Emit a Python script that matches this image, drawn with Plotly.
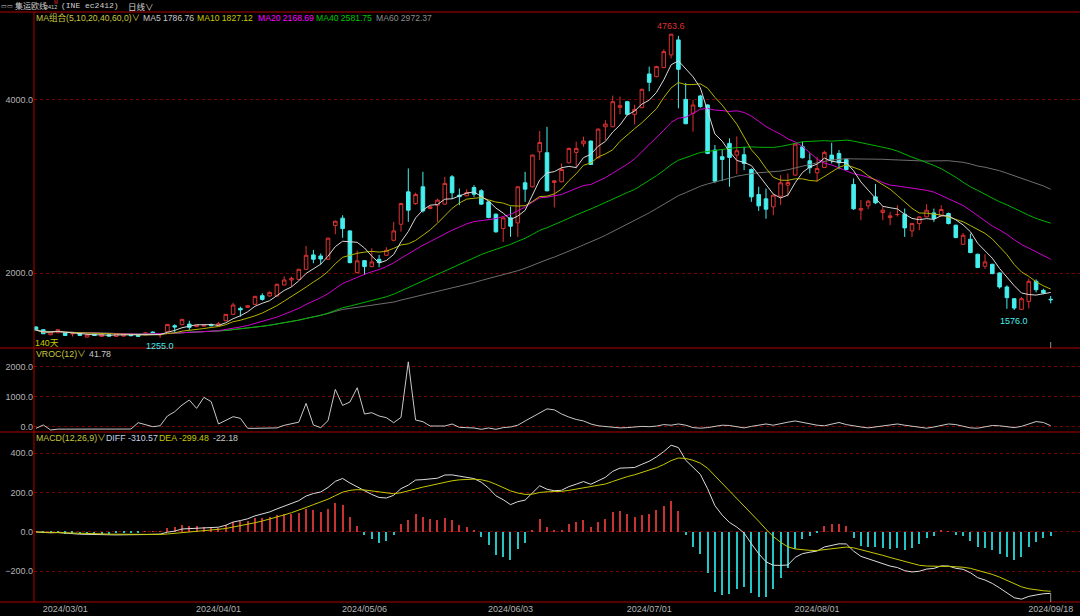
import plotly.graph_objects as go
import pandas as pd

# ---------------- data ----------------
tick_idx = [4, 25, 45, 65, 84, 107, 139]
tick_labels = ["2024/03/01", "2024/04/01", "2024/05/06", "2024/06/03",
               "2024/07/01", "2024/08/01", "2024/09/18"]

open_ = [
    1380, 1349, 1291, 1314, 1314, 1300, 1310, 1264, 1303, 1272,
    1295, 1272, 1275, 1295, 1291, 1291, 1322, 1290, 1326, 1395,
    1407, 1414, 1384, 1391, 1410, 1395, 1453, 1526, 1595, 1607,
    1642, 1742, 1738, 1738, 1865, 1923, 1930, 2046, 2212, 2200,
    2162, 2551, 2636, 2489, 2008, 2146, 2077, 2162, 2208, 2381,
    2566, 2940, 2805, 2998, 2747, 2786, 2798, 3113, 2902, 2894,
    2990, 2952, 2824, 2682, 2516, 2640, 2582, 3044, 2998, 3402,
    3391, 3048, 3056, 3275, 3395, 3495, 3526, 3333, 3691, 3691,
    3915, 3980, 3834, 3911, 4300, 4269, 4373, 4520, 4693, 4007,
    3846, 4046, 3942, 3422, 3345, 3499, 3364, 3368, 3198, 2909,
    2859, 2767, 2890, 3017, 3133, 3460, 3298, 3160, 3221, 3364,
    3383, 3314, 3025, 2728, 2778, 2882, 2701, 2643, 2678, 2682,
    2489, 2574, 2651, 2697, 2663, 2690, 2555, 2335, 2393, 2220,
    2081, 2104, 2004, 1842, 1707, 1584, 1676, 1908, 1803, 1700,
]
high = [
    1390, 1357, 1330, 1356, 1320, 1314, 1316, 1296, 1308, 1296,
    1300, 1306, 1300, 1298, 1294, 1318, 1330, 1310, 1415, 1412,
    1475, 1453, 1402, 1412, 1418, 1440, 1530, 1660, 1615, 1632,
    1740, 1770, 1790, 1880, 1965, 1961, 2050, 2316, 2270, 2228,
    2410, 2610, 2670, 2495, 2262, 2150, 2289, 2212, 2300, 2593,
    2815, 3210, 2930, 3171, 2780, 2860, 3113, 3133, 2978, 2970,
    3017, 2970, 2830, 2690, 2650, 2770, 3005, 3171, 3370, 3642,
    3690, 3075, 3268, 3450, 3518, 3576, 3530, 3670, 3768, 4050,
    4038, 3990, 3945, 4130, 4385, 4395, 4585, 4763.6, 4740, 4196,
    4000, 4060, 3950, 3480, 3430, 3557, 3580, 3460, 3210, 2998,
    2978, 2910, 3133, 3152, 3506, 3518, 3383, 3345, 3414, 3506,
    3422, 3325, 3095, 2844, 2845, 3029, 2775, 2709, 2786, 2747,
    2580, 2660, 2797, 2747, 2786, 2700, 2560, 2466, 2458, 2225,
    2220, 2110, 2010, 1861, 1712, 1726, 1938, 1930, 1822, 1738,
]
low = [
    1338, 1298, 1286, 1310, 1278, 1270, 1278, 1260, 1278, 1266,
    1268, 1266, 1270, 1272, 1266, 1285, 1290, 1255, 1320, 1310,
    1400, 1345, 1378, 1385, 1388, 1390, 1448, 1520, 1500, 1600,
    1635, 1685, 1730, 1730, 1860, 1846, 1925, 2040, 2116, 2100,
    2155, 2451, 2410, 2115, 2000, 1980, 2070, 2070, 2200, 2370,
    2480, 2593, 2790, 2700, 2740, 2593, 2790, 2856, 2786, 2890,
    2882, 2790, 2635, 2470, 2362, 2420, 2420, 2825, 2990, 3306,
    2945, 2760, 3050, 3270, 3210, 3460, 3250, 3325, 3537, 3685,
    3834, 3825, 3718, 3905, 4100, 4260, 4365, 4480, 3903, 3720,
    3634, 3910, 3375, 3040, 3063, 2999, 3145, 3190, 2825, 2720,
    2630, 2670, 2790, 2886, 3125, 3325, 3152, 3056, 3215, 3268,
    3200, 3190, 2730, 2613, 2740, 2798, 2613, 2555, 2655, 2420,
    2420, 2497, 2645, 2593, 2655, 2565, 2405, 2328, 2232, 2060,
    2050, 1990, 1822, 1591, 1576, 1580, 1595, 1780, 1760, 1653,
]
close = [
    1345, 1303, 1322, 1349, 1283, 1305, 1283, 1291, 1283, 1291,
    1275, 1303, 1295, 1280, 1272, 1314, 1303, 1298, 1410, 1380,
    1468, 1376, 1399, 1407, 1395, 1418, 1526, 1634, 1578, 1626,
    1734, 1699, 1780, 1873, 1923, 1942, 2046, 2208, 2162, 2165,
    2405, 2601, 2516, 2123, 2143, 2077, 2131, 2123, 2266, 2489,
    2805, 2728, 2909, 2720, 2767, 2844, 3037, 2929, 2884, 2932,
    2913, 2798, 2643, 2478, 2640, 2543, 2998, 2971, 3364, 3510,
    2952, 3067, 3198, 3441, 3441, 3526, 3256, 3664, 3722, 3980,
    3934, 3834, 3891, 4123, 4204, 4385, 4558, 4759, 4354, 3726,
    3942, 3923, 3383, 3063, 3314, 3337, 3414, 3268, 2882, 2778,
    2740, 2902, 3044, 3048, 3491, 3333, 3218, 3210, 3395, 3306,
    3275, 3198, 2744, 2747, 2832, 2813, 2728, 2663, 2678, 2524,
    2574, 2651, 2728, 2632, 2736, 2574, 2412, 2439, 2239, 2066,
    2131, 1996, 1842, 1719, 1599, 1707, 1908, 1811, 1773, 1695,
]
vroc = [
    -43, 66, -99, -70, -70, -72, -70, -72, -70, -72,
    -70, -70, -70, -68, 143, 80, 10, 40, 364, 507,
    728, 894, 618, 983, 840, 99, 210, 342, 287, -44,
    -44, -44, -50, -30, 55, 100, 160, 783, 66, -22,
    210, 1247, 718, 827, 1302, 430, 474, 364, 309, 143,
    320, 2162, 232, 176, 33, 33, 33, 99, -11, -22,
    -33, -77, -33, -77, -20, 0, 60, 200, 330, 480,
    600, 570, 430, 330, 250, 200, 100, 40, 20, 0,
    -30, -20, 0, 20, 10, 30, 80, 60, 100, 60,
    -20, -40, -20, 20, 60, 50, 0, -30, 20, 70,
    100, 60, 120, 160, 200, 150, 120, 60, 40, 100,
    150, 80, 30, 0, -30, 0, 40, 70, 100, 60,
    20, -20, -40, 0, 40, 100, 80, 20, -30, -40,
    0, 50, 40, 0, -20, 20, 100, 180, 150, 41.78,
]

legend_ma = [("MA5 1786.76", "#c8c8c8"), ("MA10 1827.12", "#c8c800"),
             ("MA20 2168.69", "#ff00ff"), ("MA40 2581.75", "#00c800"),
             ("MA60 2972.37", "#8c8c8c")]

# ---------------- derived indicators ----------------
idx = list(range(len(close)))
s = pd.Series(close, dtype=float)
ma = {n: s.rolling(n, min_periods=1).mean() for n in (5, 10, 20, 40, 60)}
ema12 = s.ewm(span=12, adjust=False).mean()
ema26 = s.ewm(span=26, adjust=False).mean()
diff = ema12 - ema26
dea = diff.ewm(span=9, adjust=False).mean()
hist = 2 * (diff - dea)

# ---------------- geometry ----------------
W, H = 1080, 616
L, R, T, B = 34, 0, 12, 14
PW, PH = W - L - R, H - T - B


def px(x):
    return (x - L) / PW


def py(y):
    return (H - B - y) / PH


d_price = [py(348), 1.0]
d_vroc = [py(432), py(348)]
d_macd = [0.0, py(432)]

RED = "#dc3232"
CYAN = "#46eeee"
HRED = "#c83232"
HCYAN = "#22c4c4"
GRID = "#7a0000"
LINE = "#b00000"
OLIVE = "#c8c83c"
TXT = "#b4b4b4"
FONT = "Liberation Sans, Noto Sans CJK SC, sans-serif"
CJK = "Noto Sans CJK SC, sans-serif"
MONO = "Liberation Mono, DejaVu Sans Mono, monospace"

fig = go.Figure()

fig.add_trace(go.Candlestick(
    x=idx, open=open_, high=high, low=low, close=close,
    increasing=dict(line=dict(color=RED, width=1), fillcolor="#000000"),
    decreasing=dict(line=dict(color=CYAN, width=1), fillcolor=CYAN),
    whiskerwidth=0, hoverinfo="skip", showlegend=False,
    xaxis="x", yaxis="y"))

ma_colors = {5: "#d8d8d8", 10: "#b4b400", 20: "#d000d0", 40: "#00b400", 60: "#6e6e6e"}
for n in (60, 40, 20, 10, 5):
    fig.add_trace(go.Scatter(x=idx, y=ma[n], mode="lines",
                             line=dict(color=ma_colors[n], width=1),
                             hoverinfo="skip", showlegend=False,
                             xaxis="x", yaxis="y"))

fig.add_trace(go.Scatter(x=idx, y=vroc, mode="lines",
                         line=dict(color="#c8c8c8", width=1),
                         hoverinfo="skip", showlegend=False,
                         xaxis="x2", yaxis="y2"))

fig.add_trace(go.Bar(x=idx, y=hist, width=0.16,
                     marker=dict(color=[HRED if v >= 0 else HCYAN for v in hist],
                                 line=dict(width=0)),
                     hoverinfo="skip", showlegend=False,
                     xaxis="x3", yaxis="y3"))
fig.add_trace(go.Scatter(x=idx, y=diff, mode="lines",
                         line=dict(color="#dcdcdc", width=1),
                         hoverinfo="skip", showlegend=False,
                         xaxis="x3", yaxis="y3"))
fig.add_trace(go.Scatter(x=idx, y=dea, mode="lines",
                         line=dict(color="#c8c800", width=1),
                         hoverinfo="skip", showlegend=False,
                         xaxis="x3", yaxis="y3"))

xr = [(L - 36) / 7.3, (W - R - 36) / 7.3]
xcommon = dict(range=xr, showgrid=False, zeroline=False, showline=False,
               ticks="", fixedrange=True)

ycommon = dict(showgrid=True, gridcolor=GRID, griddash="dot", gridwidth=1,
               zeroline=False, showline=False, ticks="", tickformat=".1f",
               tickfont=dict(family=FONT, size=9, color=TXT), fixedrange=True)

fig.update_layout(
    width=W, height=H,
    margin=dict(l=L, r=R, t=T, b=B),
    paper_bgcolor="#000000", plot_bgcolor="#000000",
    showlegend=False, boxgap=0.3, bargap=0,
    xaxis=dict(**xcommon, domain=[0, 1], anchor="y", showticklabels=False,
               rangeslider=dict(visible=False)),
    xaxis2=dict(**xcommon, domain=[0, 1], anchor="y2", showticklabels=False),
    xaxis3=dict(**xcommon, domain=[0, 1], anchor="y3", showticklabels=True,
                tickmode="array", tickvals=tick_idx, ticktext=tick_labels,
                tickfont=dict(family=FONT, size=9, color=TXT)),
    yaxis=dict(**ycommon, domain=d_price, range=[1138, 5015],
               tickvals=[2000, 4000], anchor="x"),
    yaxis2=dict(**ycommon, domain=d_vroc, range=[-166, 2620],
                tickvals=[0, 1000, 2000], anchor="x2"),
    yaxis3=dict(**ycommon, domain=d_macd, range=[-356, 508],
                tickvals=[-200, 0, 200, 400], anchor="x3"),
)

# separator lines
shapes = []
for yy in (12, 348, 432, 602):
    shapes.append(dict(type="line", xref="paper", yref="paper",
                       x0=px(0), x1=px(W), y0=py(yy), y1=py(yy),
                       line=dict(color=LINE, width=1)))
shapes.append(dict(type="line", xref="paper", yref="paper",
                   x0=0, x1=0, y0=0, y1=1, line=dict(color=LINE, width=1)))
last = idx[-1]
shapes.append(dict(type="line", xref="x", yref="paper", x0=last, x1=last,
                   y0=py(348), y1=py(342), line=dict(color="#909090", width=1)))
shapes.append(dict(type="line", xref="x3", yref="paper", x0=last, x1=last,
                   y0=py(602), y1=py(593), line=dict(color="#909090", width=1)))
fig.update_layout(shapes=shapes)

ann = []


def text(x, y, t, color, size=8.8, family=FONT):
    ann.append(dict(xref="paper", yref="paper", x=px(x), y=py(y), text=t,
                    showarrow=False, xanchor="left", yanchor="middle",
                    borderpad=0,
                    font=dict(family=family, size=size, color=color)))


# header
text(0, 6, "▭▭", "#c8c8c8", 6)
text(14, 6, "集运欧线", "#d2d2d2", 8, CJK)
text(44, 7, "2412", "#d2d2d2", 5.5)
text(53, 3, "M", "#e03030", 4.5)
text(60, 6, "(INE ec2412)", "#d2d2d2", 8, MONO)
text(127, 6, "日线∨", "#d2d2d2", 8.5, CJK)

# MA legend
text(35, 18, "MA组合(5,10,20,40,60,0)∨", OLIVE, 8.6)
xs = [142, 196, 257, 315, 375]
for (t, c), x0 in zip(legend_ma, xs):
    text(x0, 18, t, c, 8.6)

text(34, 343, "140天", "#c8c800", 8.8)

# VROC legend
text(35, 354, "VROC(12)∨", OLIVE, 8.8)
text(88, 354, "41.78", "#c8c8c8", 8.8)

# MACD legend
text(35, 438, "MACD(12,26,9)∨", OLIVE, 8.8)
text(105, 438, "DIFF -310.57", "#c8d2e6", 8.8)
text(158, 438, "DEA -299.48", "#c8c800", 8.8)
text(212, 438, "-22.18", "#c8c8c8", 8.8)

# extreme price labels
hi_i = max(idx, key=lambda i: high[i])
lo_i = min(idx, key=lambda i: low[i])
lo2_i = min(idx[100:], key=lambda i: low[i])
ann.append(dict(xref="x", yref="y", x=hi_i, y=high[hi_i], text=f"{high[hi_i]:.1f}",
                showarrow=False, yanchor="bottom", yshift=1,
                font=dict(family=FONT, size=9, color=RED)))
ann.append(dict(xref="x", yref="y", x=lo_i, y=low[lo_i], text=f"{low[lo_i]:.1f}",
                showarrow=False, yanchor="top", yshift=-1,
                font=dict(family=FONT, size=9, color=CYAN)))
ann.append(dict(xref="x", yref="y", x=lo2_i, y=low[lo2_i], text=f"{low[lo2_i]:.1f}",
                showarrow=False, yanchor="top", yshift=-4,
                font=dict(family=FONT, size=9, color=CYAN)))
fig.update_layout(annotations=ann)

fig.write_html("out.html", config={"displayModeBar": False},
               post_script="document.body.style.margin='0';"
                           "document.documentElement.style.overflow='hidden';")
